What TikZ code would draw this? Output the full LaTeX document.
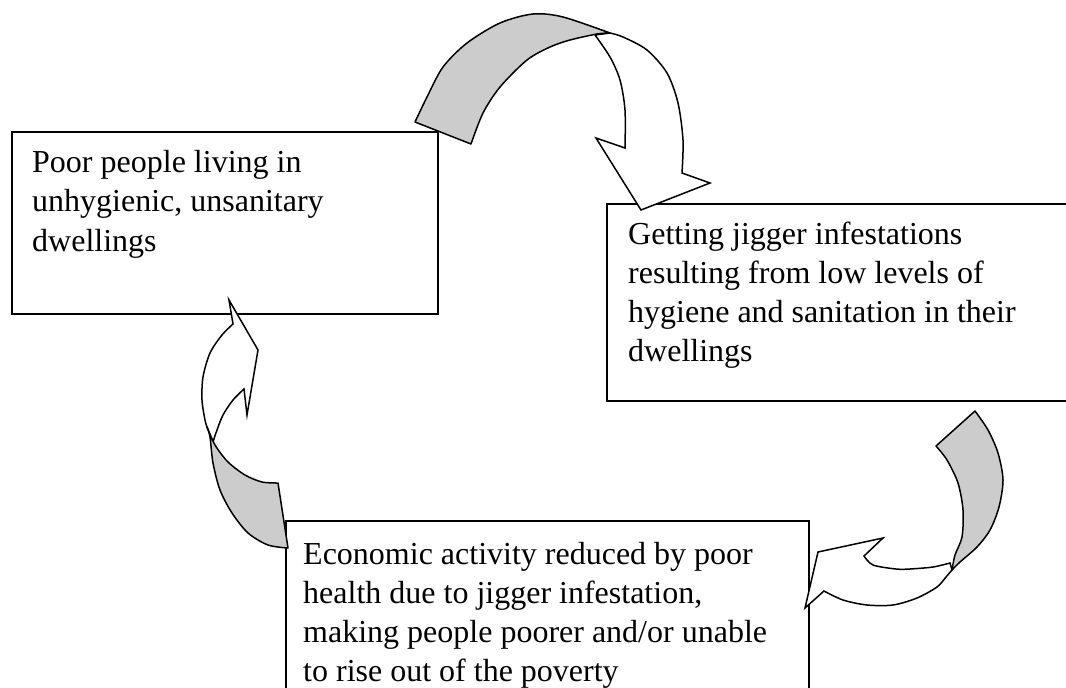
\documentclass[tikz,border=0pt]{standalone}
\usepackage{fontspec}
\setmainfont{Liberation Serif}
\definecolor{backgray}{RGB}{204,204,204}
\begin{document}
\begin{tikzpicture}[x=1pt,y=-1pt,
  boxline/.style={draw=black,line width=1.5pt,anchor=north west,inner sep=0pt},
  boxtext/.style={anchor=north west,inner sep=0pt,align=left,font=\fontsize{32}{39.2}\selectfont},
  backface/.style={fill=backgray,draw=black,line width=1.5pt,line join=round},
  frontface/.style={fill=white,draw=black,line width=1.5pt,line join=miter}]
\useasboundingbox (0,0) rectangle (1066,688);
\clip (0,0) rectangle (1066,688);

% boxes
\node[boxline,minimum width=426pt,minimum height=182pt] (a) at (11,131) {};
\node[boxline,minimum width=500pt,minimum height=197pt] (b) at (606,203) {};
\node[boxline,minimum width=523pt,minimum height=220pt] (c) at (285,520) {};

% texts
\node[boxtext] (ta) at (32,145.1) {\strut Poor people living in\\\strut unhygienic, unsanitary\\\strut dwellings};
\node[boxtext] (tb) at (628,216.6) {\strut Getting jigger infestations\\\strut resulting from low levels of\\\strut hygiene and sanitation in their\\\strut dwellings};
\node[boxtext] (tc) at (303,536.6) {\strut Economic activity reduced by poor\\\strut health due to jigger infestation,\\\strut making people poorer and/or unable\\\strut to rise out of the poverty};

% arrow 1 (top)
\draw[frontface] plot[smooth] coordinates {(595,35) (610,57) (620,80) (625,110) (625,148)}
  -- (596,138) -- (641,210) -- (710,183) -- (682,173)
  -- plot[smooth] coordinates {(682,173) (683,140) (678,103) (667,73) (647,50) (623,37) (610,33)} -- cycle;
\draw[backface] plot[smooth] coordinates {(415,122) (427,97) (443,67) (467,43) (500,23) (533,14) (563,17) (610,33)}
  -- plot[smooth] coordinates {(610,33) (597,34) (570,40) (550,47) (527,60) (500,87) (483,113) (471,144)} -- cycle;

% arrow 2 (right)
\draw[frontface] plot[smooth] coordinates {(950,563) (933,567) (910,569) (896,569) (873,565) (864,556)}
  -- (883,538) -- (818,552) -- (805,608) -- (824,591)
  -- plot[smooth] coordinates {(824,591) (843,600) (867,605) (893,605) (917,598) (937,587) (946,577) (952,570)} -- cycle;
\draw[backface] plot[smooth] coordinates {(975,411) (988,430) (998,453) (1003,480) (999,507) (990,530) (977,547) (960,562) (952,570)}
  -- plot[smooth] coordinates {(952,570) (955,555) (962,537) (963,510) (958,483) (947,460) (936,446)} -- cycle;

% arrow 3 (left)
\draw[frontface] plot[smooth] coordinates {(207,427) (205,420) (202,400) (203,377) (210,353) (222,335) (233,324)}
  -- (229,300) -- (258,350) -- (247,415) -- (244,389)
  -- plot[smooth] coordinates {(244,389) (233,400) (223,415) (217,430) (213,442)} -- cycle;
\draw[backface] plot[smooth] coordinates {(207,427) (210,437) (213,463) (220,490) (232,513) (248,533) (268,545) (288,548)}
  -- (278,483)
  -- plot[smooth] coordinates {(278,483) (262,482) (245,475) (228,462) (215,445) (207,427)} -- cycle;
\end{tikzpicture}
\end{document}
